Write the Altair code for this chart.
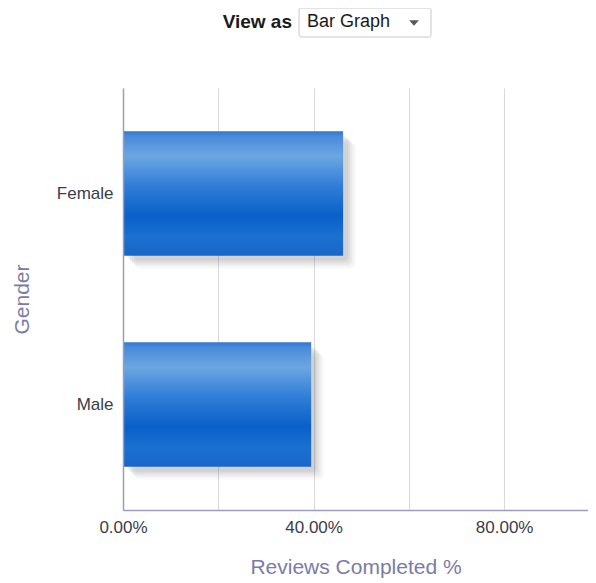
import altair as alt
import pandas as pd

genders = ["Female", "Male"]
completed = [0.462, 0.395]
grid_ticks = [0.0, 0.2, 0.4, 0.6, 0.8]

df = pd.DataFrame({"Gender": genders, "Completed": completed})
one = pd.DataFrame({"k": [0]})

FONT = "Liberation Sans"

x_scale = alt.Scale(domain=[0, 0.976], nice=False, zero=True)
x_enc = alt.X(
    "Completed:Q",
    scale=x_scale,
    axis=alt.Axis(
        values=grid_ticks,
        format=".2%",
        labelExpr="round(datum.value*100) % 40 == 0 ? datum.label : ''",
        title="Reviews Completed %",
        titleFont=FONT, titleFontSize=21, titleFontWeight="normal",
        titleColor="#7a7ca6",
        titleY=57, titleBaseline="middle",
        labelFont=FONT, labelFontSize=17, labelColor="#3c3c4a",
        labelPadding=9, labelFlush=False,
        ticks=False, grid=True, gridColor="#d8d8e2",
        domainColor="#9c9cc0", domainWidth=1.5,
    ),
)
y_enc = alt.Y(
    "Gender:N",
    sort=genders,
    scale=alt.Scale(paddingInner=0.41, paddingOuter=0.205),
    axis=alt.Axis(
        title="Gender",
        titleFont=FONT, titleFontSize=21, titleFontWeight="normal",
        titleColor="#7a7ca6",
        titleX=-101, titleY=211, titleAngle=-90, titleBaseline="middle",
        labelFont=FONT, labelFontSize=17, labelColor="#3c3c4a",
        labelPadding=10, ticks=False, grid=False,
        domainColor="#9c9cc0", domainWidth=1.5,
    ),
)

base = alt.Chart(df)

shadows = [
    base.mark_rect(color="#7a7a7a", opacity=op, xOffset=off, x2Offset=off,
                   yOffset=off, y2Offset=off, cornerRadius=4)
    .encode(x=x_enc, x2=alt.X2(datum=0), y=y_enc)
    for off, op in [(13, 0.04), (11, 0.06), (9, 0.08), (7, 0.1), (5, 0.1)]
]

grad = alt.Gradient(
    gradient="linear",
    x1=0, x2=0, y1=0, y2=1,
    stops=[
        alt.GradientStop(offset=0.0, color="#2f78d0"),
        alt.GradientStop(offset=0.04, color="#4a8ad8"),
        alt.GradientStop(offset=0.2, color="#6ca6e2"),
        alt.GradientStop(offset=0.45, color="#2e7cd6"),
        alt.GradientStop(offset=0.68, color="#0a60c8"),
        alt.GradientStop(offset=0.85, color="#1b70d0"),
        alt.GradientStop(offset=1.0, color="#1866c8"),
    ],
)
bars = base.mark_bar(color=grad).encode(x=x_enc, y=y_enc)

hdr = alt.Chart(one)
view_as = hdr.mark_text(
    text="View as", font=FONT, fontSize=19, fontWeight="bold",
    align="right", baseline="middle", color="#1a1a1a",
).encode(x=alt.value(169), y=alt.value(-66))
box = hdr.mark_rect(
    fill="white", stroke="#c8c8d0", strokeWidth=1, cornerRadius=2,
).encode(x=alt.value(176), x2=alt.value(308), y=alt.value(-80), y2=alt.value(-51))
box_text = hdr.mark_text(
    text="Bar Graph", font=FONT, fontSize=18, align="left",
    baseline="middle", color="#1a1a1a",
).encode(x=alt.value(184), y=alt.value(-66))
arrow = hdr.mark_point(
    shape="M-1,-0.55L1,-0.55L0,0.55Z", filled=True, color="#111111", size=95,
).encode(x=alt.value(291), y=alt.value(-65))

chart = alt.layer(*shadows, bars, box, view_as, box_text, arrow).properties(
    width=465,
    height=422,
    autosize=alt.AutoSizeParams(type="none"),
    padding={"left": 115, "top": 80, "right": 0, "bottom": 73},
).configure_view(stroke=None)

chart.save("out.html", embed_options={"renderer": "svg", "actions": False})
